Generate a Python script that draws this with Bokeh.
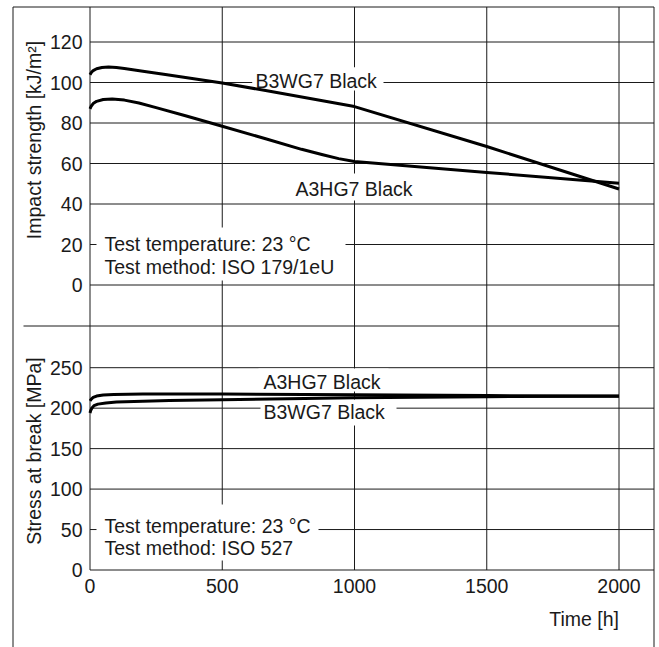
import math
from bokeh.plotting import figure
from bokeh.models import Range1d
from bokeh.core.properties import value
from bokeh.embed import file_html
from bokeh.resources import INLINE

# ---------------- data ----------------
time_ticks = [0, 500, 1000, 1500, 2000]
impact_ticks = [0, 20, 40, 60, 80, 100, 120]
stress_ticks = [0, 50, 100, 150, 200, 250]

impact_b3wg7_t = [0, 5, 12, 25, 45, 70, 100, 130, 200, 285, 500, 664, 1000, 1500, 2000]
impact_b3wg7_v = [103.8, 104.9, 105.9, 106.8, 107.4, 107.6, 107.4, 106.9, 105.6, 103.9,
                  99.8, 96.0, 88.1, 68.4, 47.4]

impact_a3hg7_t = [0, 5, 12, 25, 50, 84, 130, 185, 250, 361, 500, 664, 800, 880, 940,
                  1000, 1500, 2000]
impact_a3hg7_v = [87.0, 88.4, 89.6, 90.7, 91.6, 91.9, 91.3, 89.9, 87.6, 83.6, 78.4, 72.2,
                  67.0, 64.3, 62.4, 61.0, 55.6, 50.2]

stress_a3hg7_t = [0, 5, 12, 25, 50, 90, 200, 500, 1000, 1500, 2000]
stress_a3hg7_v = [209.0, 211.2, 213.2, 215.0, 216.3, 217.0, 217.5, 217.5, 216.5, 215.5,
                  215.0]

stress_b3wg7_t = [0, 3, 8, 15, 30, 60, 100, 300, 500, 1000, 1500, 2000]
stress_b3wg7_v = [194.0, 197.5, 200.5, 203.0, 205.0, 206.5, 207.5, 209.5, 210.5, 213.0,
                  214.2, 214.8]

# ---------------- layout (pixel geometry) ----------------
W, H = 659, 647
X0_PX, X_SCALE = 89.5, 0.2645      # px of t=0, px per hour
TOP0_PX, TOP_SCALE = 284.5, 2.025  # px of impact=0, px per kJ/m2
BOT0_PX, BOT_SCALE = 569.5, 0.8092 # px of stress=0, px per MPa


def tx(px):
    return (px - X0_PX) / X_SCALE


def ty(py):
    return (TOP0_PX - py) / TOP_SCALE


def sy(py):
    return (BOT0_PX - py) / BOT_SCALE


INK = "#1a1a1a"
FONT = value("Liberation Sans")
FS = "19.5px"

p = figure(width=W, height=H, output_backend="svg", toolbar_location=None,
           x_range=Range1d(tx(0), tx(W)), y_range=Range1d(ty(H), ty(0)),
           x_axis_location=None, y_axis_location=None, min_border=0)
p.extra_y_ranges = {"s": Range1d(sy(H), sy(0))}
p.grid.visible = False
p.outline_line_color = None
p.title.visible = False
p.background_fill_color = "white"
p.border_fill_color = "white"

X_RIGHT = tx(653.5)
X_LEFT_FRAME = tx(12.5)
Y_TOP_S = sy(6.5)

# top horizontal grid
n = len(impact_ticks)
p.segment(x0=[0] * n, x1=[X_RIGHT] * n, y0=impact_ticks, y1=impact_ticks,
          line_color=INK, line_width=1)
# bottom horizontal grid + axis
m = len(stress_ticks)
p.segment(x0=[0] * m, x1=[X_RIGHT] * m, y0=stress_ticks, y1=stress_ticks,
          line_color=INK, line_width=1, y_range_name="s")
# vertical grid (spans both panels)
k = len(time_ticks)
p.segment(x0=time_ticks, x1=time_ticks, y0=[0] * k, y1=[Y_TOP_S] * k,
          line_color=INK, line_width=1, y_range_name="s")
# separator between panels
p.segment(x0=[tx(23)], x1=[time_ticks[-1]], y0=[ty(325.5)], y1=[ty(325.5)],
          line_color=INK, line_width=1)
# outer frame
p.segment(x0=[X_LEFT_FRAME, X_LEFT_FRAME, X_RIGHT],
          x1=[X_LEFT_FRAME, X_RIGHT, X_RIGHT],
          y0=[Y_TOP_S, Y_TOP_S, Y_TOP_S],
          y1=[sy(H + 5), Y_TOP_S, sy(H + 5)],
          line_color=INK, line_width=1, y_range_name="s")

# white boxes behind labels (top panel)
top_boxes = [(251.7, 383, 66.7, 90), (289, 412, 173, 200), (96, 345, 227, 280)]
p.quad(left=[tx(b[0]) for b in top_boxes], right=[tx(b[1]) for b in top_boxes],
       top=[ty(b[2]) for b in top_boxes], bottom=[ty(b[3]) for b in top_boxes],
       fill_color="white", line_color=None)
bot_boxes = [(258, 388, 368, 391), (260, 396, 399, 425), (96, 318, 504, 560)]
p.quad(left=[tx(b[0]) for b in bot_boxes], right=[tx(b[1]) for b in bot_boxes],
       top=[sy(b[2]) for b in bot_boxes], bottom=[sy(b[3]) for b in bot_boxes],
       fill_color="white", line_color=None, y_range_name="s")

# curves
p.line(impact_b3wg7_t, impact_b3wg7_v, line_color="black", line_width=3, line_join="round")
p.line(impact_a3hg7_t, impact_a3hg7_v, line_color="black", line_width=3, line_join="round")
p.line(stress_a3hg7_t, stress_a3hg7_v, line_color="black", line_width=3, line_join="round",
       y_range_name="s")
p.line(stress_b3wg7_t, stress_b3wg7_v, line_color="black", line_width=3, line_join="round",
       y_range_name="s")

common = dict(text_font=FONT, text_font_size=FS, text_color=INK, text_baseline="middle")

# tick labels
p.text(x=[0] * n, y=impact_ticks, text=[str(v) for v in impact_ticks],
       x_offset=-7.5, text_align="right", **common)
p.text(x=[0] * m, y=stress_ticks, text=[str(v) for v in stress_ticks],
       x_offset=-7.5, text_align="right", y_range_name="s", **common)
p.text(x=time_ticks, y=[0] * k, text=[str(v) for v in time_ticks],
       y_offset=16, text_align="center", y_range_name="s", **common)
p.text(x=[time_ticks[-1]], y=[0], text=["Time [h]"], y_offset=49,
       text_align="right", y_range_name="s", **common)

# axis titles
p.text(x=[0], y=[ty(139.5)], text=["Impact strength [kJ/m²]"], x_offset=-56.5,
       angle=math.pi / 2, text_align="center", **common)
p.text(x=[0], y=[sy(450.5)], text=["Stress at break [MPa]"], x_offset=-56.5,
       angle=math.pi / 2, text_align="center", y_range_name="s", **common)

# annotations, top panel
p.text(x=[tx(255), tx(295), tx(104), tx(104)],
       y=[ty(80), ty(188), ty(243), ty(266.5)],
       text=["B3WG7 Black", "A3HG7 Black", "Test temperature: 23 °C",
             "Test method: ISO 179/1eU"],
       text_align="left", **common)
# annotations, bottom panel
p.text(x=[tx(263), tx(263), tx(104), tx(104)],
       y=[sy(381), sy(411.7), sy(525), sy(547.7)],
       text=["A3HG7 Black", "B3WG7 Black", "Test temperature: 23 °C",
             "Test method: ISO 527"],
       text_align="left", y_range_name="s", **common)

open("out.html", "w").write(file_html(p, INLINE))
